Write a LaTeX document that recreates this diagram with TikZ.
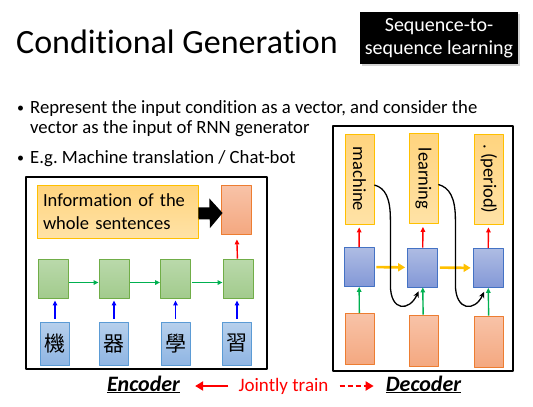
\documentclass[tikz,border=0pt]{standalone}
\usepackage{graphicx,xcolor,tikz}
\usepackage{fontspec}
\setmainfont{Carlito}[Ligatures=NoCommon]
\newfontfamily\cjkfont{Noto Sans CJK TC}
\usetikzlibrary{arrows.meta,calc,positioning,shadows}
\frenchspacing
\definecolor{cgGold}{HTML}{FFC000}
\definecolor{cgSandTop}{HTML}{FFD47E}
\definecolor{cgSandBot}{HTML}{FFE2A6}
\definecolor{cgLeaf}{HTML}{70AD47}
\definecolor{cgLeafTop}{HTML}{BAD9AB}
\definecolor{cgLeafBot}{HTML}{A2CB8D}
\definecolor{cgSky}{HTML}{5B9BD5}
\definecolor{cgSkyTop}{HTML}{B7D0EC}
\definecolor{cgSkyBot}{HTML}{8FB5E3}
\definecolor{cgNavy}{HTML}{4472C4}
\definecolor{cgNavyTop}{HTML}{AEBCE3}
\definecolor{cgNavyBot}{HTML}{8398D7}
\definecolor{cgPeach}{HTML}{ED7D31}
\definecolor{cgPeachTop}{HTML}{F8C3A8}
\definecolor{cgPeachBot}{HTML}{F4A880}
\definecolor{cgGreen}{HTML}{00B050}
\definecolor{cgBlue}{HTML}{0000FF}
\definecolor{cgRed}{HTML}{FF0000}
\newcommand{\cgsize}[2]{\fontsize{#1}{#2}\selectfont}
\tikzset{
 slide/.style={x=1pt,y=-1pt,line join=round},
 title/.style={font=\cgsize{34}{40},inner sep=0pt,anchor=base west},
 tagbox/.style={fill=black,text=white,font=\cgsize{20}{23},align=center,inner sep=0pt,
   drop shadow={shadow xshift=1.5pt,shadow yshift=-1.5pt,opacity=.35}},
 bulltext/.style={font=\cgsize{18.7}{22},inner sep=0pt,anchor=base west},
 bulldot/.style={font=\cgsize{14}{16},inner sep=0pt,anchor=base west},
 frame/.style={draw=black,line width=2.5pt,inner sep=0pt},
 infobox/.style={draw=cgGold,line width=.8pt,top color=cgSandTop,bottom color=cgSandBot,
   font=\cgsize{18.5}{23},text width=149pt,align=left,inner xsep=6pt,inner ysep=0pt,minimum height=53pt},
 vecbox/.style={draw=cgPeach,line width=.8pt,top color=cgPeachTop,bottom color=cgPeachBot,inner sep=0pt},
 hidbox/.style={draw=cgLeaf,line width=.8pt,top color=cgLeafTop,bottom color=cgLeafBot,
   inner sep=0pt,minimum width=30pt,minimum height=39pt},
 inbox/.style={draw=cgSky,line width=.8pt,top color=cgSkyTop,bottom color=cgSkyBot,
   inner sep=0pt,minimum width=29pt,minimum height=43pt,font=\cjkfont\cgsize{21}{24}},
 decbox/.style={draw=cgNavy,line width=.8pt,top color=cgNavyTop,bottom color=cgNavyBot,
   inner sep=0pt,minimum width=30pt,minimum height=39pt},
 outbox/.style={draw=cgGold,line width=.8pt,top color=cgSandTop,bottom color=cgSandBot,
   inner sep=0pt,minimum width=29pt,minimum height=90pt,font=\cgsize{18.5}{22}},
 srcbox/.style={vecbox,minimum width=29pt,minimum height=51pt},
 arrB/.style={draw=cgBlue,line width=1.4pt,-{Triangle[length=5pt,width=4.5pt]}},
 arrG/.style={draw=cgGreen,line width=1.4pt,-{Triangle[length=5pt,width=4.5pt]}},
 arrR/.style={draw=cgRed,line width=1.4pt,-{Triangle[length=5pt,width=4.5pt]}},
 arrY/.style={draw=cgGold,line width=2.6pt,-{Triangle[length=7pt,width=8pt]}},
 link/.style={draw=black,line width=1.3pt,-{Stealth[length=6pt,width=5.5pt]}},
 bigarrow/.style={draw=black,line width=12pt,-{Triangle[length=13pt,width=29pt]}},
 jointarrow/.style={draw=cgRed,line width=2.6pt,-{Triangle[length=8pt,width=9pt]}},
 lab/.style={inner sep=0pt,anchor=base}
}

\begin{document}
\begin{tikzpicture}[slide]
 \useasboundingbox (0,0) rectangle (533,407);
 % heading
 \node[title] (ttl) at (16,53) {Conditional Generation};
 \node[tagbox,minimum width=158pt,minimum height=52pt] (tag) at (439,38) {Sequence-to-\\sequence learning};
 \node[bulldot] (dot1) at (17,112) {•}; \node[bulltext] (p1) at (30,113) {Represent the input condition as a vector, and consider the};
 \node[bulltext] (p2) at (30,133) {vector as the input of RNN generator};
 \node[bulldot] (dot2) at (17,162) {•}; \node[bulltext] (p3) at (30,163) {E.g. Machine translation / Chat-bot};
 % encoder
 \node[frame,minimum width=241pt,minimum height=192pt] (enc) at (146.5,273) {};
 \node[infobox] (info) at (117.5,211.5) {Information of the\\whole sentences};
 \node[vecbox,minimum width=30pt,minimum height=49pt] (vec) at (236,209.5) {};
 \node[hidbox] (h1) at (53,278.5) {}; \node[hidbox] (h2) at (114,278.5) {};
 \node[hidbox] (h3) at (175.5,278.5) {}; \node[hidbox] (h4) at (238,278.5) {};
 \node[inbox] (x1) at (55,343.5) {機}; \node[inbox] (x2) at (114,343.5) {器};
 \node[inbox] (x3) at (175.5,343.5) {學}; \node[inbox] (x4) at (237,343.5) {習};
 \draw[bigarrow] ([yshift=-2pt]info.east) -- ([yshift=-3.5pt,xshift=2pt]vec.west);
 \draw[arrR,shorten >=5pt] (h4) -- (vec);
 \draw[arrG,shorten <=1pt] ([yshift=-4pt]h1.east) -- ([yshift=-4pt]h2.west);
 \draw[arrG,shorten <=1pt] ([yshift=-4pt]h2.east) -- ([yshift=-4pt]h3.west);
 \draw[arrG,shorten <=1pt] ([yshift=-4pt]h3.east) -- ([yshift=-4pt]h4.west);
 \draw[arrB,shorten <=3pt,shorten >=2pt] (x1.north) -- (x1.north |- h1.south);
 \draw[arrB,shorten <=3pt,shorten >=2pt] (x2) -- (h2);
 \draw[arrB,shorten <=3pt,shorten >=2pt] (x3) -- (h3);
 \draw[arrB,shorten <=3pt,shorten >=2pt] (x4.north) -- (x4.north |- h4.south);
 % decoder
 \node[frame,minimum width=180pt,minimum height=245pt] (dec) at (423,248.5) {};
 \node[outbox] (o1) at (359.5,179) {\rotatebox{-90}{machine}};
 \node[outbox] (o2) at (423.5,178.5) {\rotatebox{-90}{learning}};
 \node[outbox] (o3) at (489,179) {\rotatebox{-90}{. (period)}};
 \node[decbox] (d1) at (359,267) {}; \node[decbox] (d2) at (422.5,267.5) {}; \node[decbox] (d3) at (488,268) {};
 \node[srcbox] (s1) at (359.5,339) {}; \node[srcbox] (s2) at (423.5,340.5) {}; \node[srcbox] (s3) at (489,341.5) {};
 \draw[arrR,shorten >=3pt] (d1) -- (o1); \draw[arrR,shorten >=3pt] (d2) -- (o2); \draw[arrR,shorten >=3pt] (d3) -- (o3);
 \draw[arrG] (s1) -- (d1); \draw[arrG] (s2) -- (d2); \draw[arrG] (s3) -- (d3);
 \draw[arrY,shorten <=2pt,shorten >=2pt] (d1) -- (d2); \draw[arrY,shorten <=2pt,shorten >=2pt] (d2) -- (d3);
 \draw[link] ([yshift=-6pt]o1.east) .. controls +(11,3) and +(0,-22) .. ++(16,35) -- ++(0,65)
   .. controls +(0,27) and +(-9,20) .. ([xshift=-4pt,yshift=-4pt]d2.south);
 \draw[link] ([yshift=-6pt]o2.east) .. controls +(11,3) and +(0,-22) .. ++(17,35) -- ++(0,65)
   .. controls +(0,27) and +(-9,20) .. ([xshift=-4pt,yshift=-4pt]d3.south);
 % labels below
 \node[lab,font=\cgsize{22}{24}\bfseries\itshape] (enclab) at (143.5,391) {\underline{Encoder}};
 \node[lab,font=\cgsize{19}{23},text=cgRed] (jt) at (283.5,391) {Jointly train};
 \node[lab,font=\cgsize{22}{24}\bfseries\itshape] (declab) at (423.5,391) {\underline{Decoder}};
 \draw[jointarrow,shorten <=10pt,shorten >=15pt] ([yshift=5pt]jt.base west) -- ([yshift=5pt]enclab.base east);
 \draw[jointarrow,dash pattern=on 5pt off 3pt,shorten <=11pt,shorten >=12pt] ([yshift=5pt]jt.base east) -- ([yshift=5pt]declab.base west);
\end{tikzpicture}
\end{document}
